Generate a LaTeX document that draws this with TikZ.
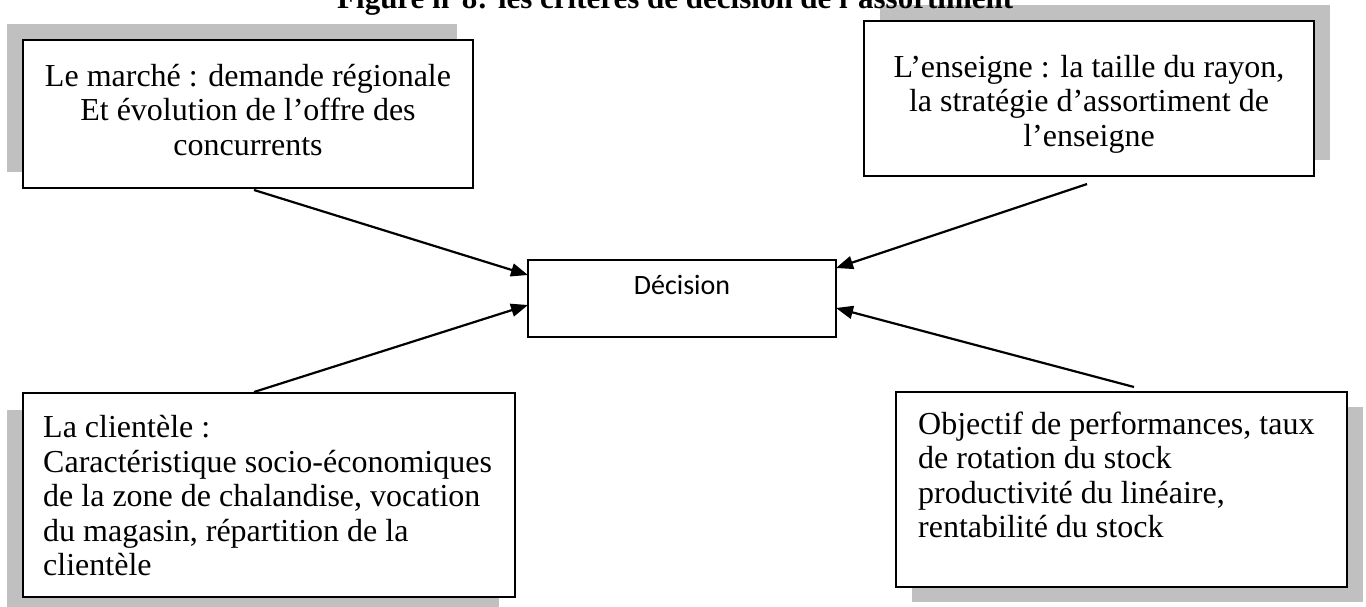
\documentclass[tikz,border=0pt]{standalone}
\usepackage{fontspec}
\setmainfont{Liberation Serif}
\newfontfamily\labelsans{Carlito}
\usetikzlibrary{arrows.meta}
\pgfdeclarelayer{background}
\pgfsetlayers{background,main}
\definecolor{shadowgray}{HTML}{C0C0C0}
\begin{document}
\begin{tikzpicture}[x=1pt,y=-1pt,
  panel/.style={draw=black, line width=1.5pt, fill=white, inner sep=0pt, outer sep=0pt, anchor=north west},
  bodytext/.style={font=\fontsize{32}{34.5}\selectfont, inner sep=0pt},
  flow/.style={line width=2.2pt, -{Triangle[length=17pt,width=13pt]}},
  shade/.style={fill=shadowgray}
  ]
\useasboundingbox (0,0) rectangle (1366,606);
\clip (0,0) rectangle (1366,606);

% title, cut by the top edge
\node[font=\bfseries\fontsize{31}{34}\selectfont, anchor=base west, inner sep=0pt] (title) at (337,8)
  {Figure n°8: les critères de décision de l’assortiment};

% boxes
\node[panel, minimum width=450pt, minimum height=148pt] (market) at (23,40) {};
\node[panel, minimum width=450pt, minimum height=155pt] (brand) at (864,21) {};
\node[panel, minimum width=492pt, minimum height=204pt] (clients) at (23,393) {};
\node[panel, minimum width=451pt, minimum height=195pt] (goals) at (896,392) {};
\node[panel, minimum width=308pt, minimum height=77pt] (dec) at (528,260) {};

% drop shadows
\begin{pgfonlayer}{background}
\fill[shade] ([shift={(-16,-16)}]market.south west) rectangle ([shift={(-16,-16)}]market.north east);
\fill[shade] ([shift={(16,-16)}]brand.south west) rectangle ([shift={(16,-16)}]brand.north east);
\fill[shade] ([shift={(-16,17)}]clients.south west) rectangle ([shift={(-16,17)}]clients.north east);
\fill[shade] ([shift={(16,15)}]goals.south west) rectangle ([shift={(16,15)}]goals.north east);
\end{pgfonlayer}

% texts
\node[bodytext, align=center] (markettext) at (248,110)
  {Le marché : demande régionale\\Et évolution de l’offre des\\concurrents};
\node[bodytext, align=center] (brandtext) at (1089,104)
  {L’enseigne : la taille du rayon,\\la stratégie d’assortiment de\\l’enseigne};
\node[bodytext, align=left, anchor=west] (clientstext) at (43,496)
  {La clientèle :\\Caractéristique socio-économiques\\de la zone de chalandise, vocation\\du magasin, répartition de la\\clientèle};
\node[bodytext, align=left, anchor=west] (goalstext) at (918,475)
  {Objectif de performances, taux\\de rotation du stock\\productivité du linéaire,\\rentabilité du stock};
\node[font=\labelsans\fontsize{28}{32}\selectfont, inner sep=0pt] (dectext) at (682,285) {Décision};

% connectors
\coordinate (s1) at (254,190);
\coordinate (s2) at (1087,184);
\coordinate (s3) at (254,392);
\coordinate (s4) at (1134,387);
\draw[flow] (s1) -- ([yshift=23.5pt]dec.west);
\draw[flow] (s2) -- ([yshift=30.5pt]dec.east);
\draw[flow] (s3) -- ([yshift=-6.5pt]dec.west);
\draw[flow] (s4) -- ([yshift=-9.5pt]dec.east);
\end{tikzpicture}
\end{document}
